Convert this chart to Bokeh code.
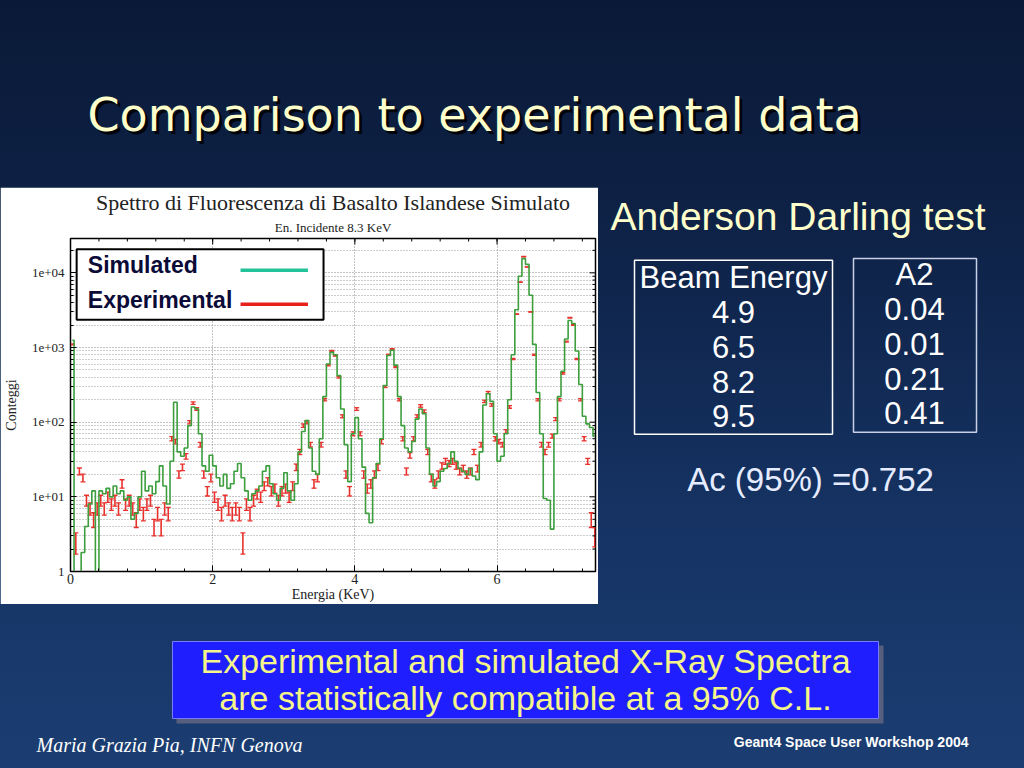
import numpy as np
from bokeh.plotting import figure
from bokeh.models import (ColumnDataSource, FixedTicker, Label, Title, Whisker, TeeHead, Range1d)
from bokeh.layouts import column, row
from bokeh.embed import file_html
from bokeh.resources import INLINE

# ---------------- data ----------------
bin_width_kev = 0.05
simulated_counts = [
    1250, 0.5, 0.5, 1.8, 4, 8, 12, 0.5, 12, 11,
    13, 10, 14, 11, 12, 9, 10, 5, 6, 10,
    22, 12, 14, 11, 16, 26, 14, 8, 30, 185,
    40, 35, 45, 90, 160, 150, 70, 26, 22, 36,
    26, 18, 14, 20, 13, 15, 22, 28, 18, 12,
    9, 11, 12, 14, 22, 26, 15, 11, 9, 13,
    21, 12, 9, 15, 40, 75, 105, 45, 22, 20,
    60, 220, 600, 860, 800, 420, 150, 50, 16, 70,
    115, 60, 25, 6, 4.5, 18, 28, 60, 310, 780,
    920, 580, 220, 90, 45, 40, 55, 110, 150, 130,
    45, 20, 14, 16, 22, 24, 28, 40, 30, 24,
    22, 20, 24, 19, 17, 40, 170, 240, 190, 70,
    30, 35, 70, 200, 800, 3200, 9000, 15500, 13000, 5000,
    1100, 250, 70, 9.5, 9, 3.7, 70, 220, 480, 1300,
    2300, 2100, 900, 320, 120, 95, 85, 65]
experimental_counts = [
    1100, 2.5, 22, 18, 9, 7, 5, 7, 9, 7,
    10, 8, 9, 7, 15, 8, 9, 7, 5, 8,
    6, 8, 9, 4, 6, 4, 7, 6, 60, 55,
    20, 25, 35, 100, 180, 150, 50, 20, 12, 18,
    10, 8, 6, 9, 7, 6, 7, 6, 2.5, 8,
    6, 9, 11, 10, 14, 16, 12, 13, 9, 12,
    13, 10, 14, 25, 40, 90, 100, 50, 15, 18,
    50, 200, 580, 900, 780, 400, 120, 20, 12, 70,
    150, 70, 20, 13, 15, 20, 25, 55, 300, 800,
    950, 550, 200, 60, 22, 36, 60, 120, 165, 140,
    40, 18, 15, 20, 26, 30, 28, 30, 26, 22,
    24, 20, 22, 40, 24, 50, 190, 250, 170, 60,
    55, 50, 75, 160, 700, 2800, 7500, 16500, 12000, 3000,
    800, 200, 50, 40, 50, 65, 110, 200, 450, 1200,
    2500, 2000, 700, 200, 60, 30, 5, 3]
x_ticks = [0, 2, 4, 6]
y_ticks = [1, 10, 100, 1000, 10000]
y_tick_labels = ["1", "1e+01", "1e+02", "1e+03", "1e+04"]
table_header = ["Beam Energy", "A2"]
beam_energy = ["4.9", "6.5", "8.2", "9.5"]
a2_values = ["0.04", "0.01", "0.21", "0.41"]
ac_95 = "0.752"

# ---------------- derived ----------------
n = len(simulated_counts)
energy = np.round((np.arange(n) + 0.5) * bin_width_kev, 4)
exp_arr = np.array(experimental_counts, dtype=float)
exp_err = 0.5 * np.sqrt(exp_arr)
src = ColumnDataSource(dict(e=energy, sim=simulated_counts, exp=exp_arr,
                            lo=exp_arr - exp_err, hi=exp_arr + exp_err))

W = 1024
TOP_H, MID_H, BOT_H = 187, 417, 164
SP_W = 598
RT_W = W - SP_W
FRAME_TOP, FRAME_BOTTOM = 49, 33   # borders of the spectrum frame (row aligns frames)

SERIF = "Liberation Serif"
SANS = "Liberation Sans"


def deco_fig(w, h, y_top=0, y_bottom=None, **kw):
    if y_bottom is None:
        y_bottom = h
    f = figure(width=w, height=h, x_range=Range1d(0, w), y_range=Range1d(y_bottom, y_top),
               output_backend="svg", toolbar_location=None,
               x_axis_location=None, y_axis_location=None, **kw)
    f.grid.visible = False
    f.outline_line_color = None
    f.background_fill_alpha = 0
    f.border_fill_alpha = 0
    return f


# ---------------- title block ----------------
top = deco_fig(W, TOP_H, min_border=0)
title_txt = "Comparison to experimental data"
top.add_layout(Label(x=90, y=117, text=title_txt, text_font="DejaVu Sans",
                     text_font_size="46px", text_color="#000000", text_alpha=0.85,
                     text_baseline="middle"))
top.add_layout(Label(x=87, y=114, text=title_txt, text_font="DejaVu Sans",
                     text_font_size="46px", text_color="#ffffcc",
                     text_baseline="middle"))

# ---------------- spectrum ----------------
X_END = 7.385
Y_END = 10 ** 4.46
PX_PER_KEV = 71.7
PX_PER_DECADE = 75.0
sp = figure(width=SP_W, height=MID_H, x_range=Range1d(0, X_END),
            y_range=Range1d(1, Y_END), y_axis_type="log", title=None,
            output_backend="svg", toolbar_location=None,
            min_border_left=65, min_border_right=3, min_border_top=FRAME_TOP,
            min_border_bottom=FRAME_BOTTOM)
sp.background_fill_color = "white"
sp.border_fill_color = "white"
sp.outline_line_color = "black"
sp.outline_line_width = 1.5

x_minor = list(np.round(np.arange(0, 7.4, 0.4), 2))
y_minor = [m * 10 ** d for d in range(0, 5) for m in range(2, 10)]
xt = FixedTicker(ticks=x_ticks, minor_ticks=x_minor)
yt = FixedTicker(ticks=y_ticks, minor_ticks=y_minor)

xa = sp.xaxis[0]
xa.ticker = xt
xa.axis_label = "Energia (KeV)"
ya = sp.yaxis[0]
ya.ticker = yt
ya.major_label_overrides = dict(zip(y_ticks, y_tick_labels))
ya.axis_label = "Conteggi"
for ax in (xa, ya):
    ax.major_tick_in = 6
    ax.major_tick_out = 0
    ax.minor_tick_in = 3
    ax.minor_tick_out = 0
    ax.axis_line_color = "black"
    ax.major_tick_line_color = "black"
    ax.minor_tick_line_color = "black"
    ax.major_label_text_font = SERIF
    ax.major_label_text_color = "#222222"
    ax.axis_label_text_font = SERIF
    ax.axis_label_text_font_style = "normal"
    ax.axis_label_text_color = "#222222"
    ax.axis_label_text_font_size = "14px"
xa.major_label_text_font_size = "14px"
xa.major_label_standoff = 2
xa.axis_label_standoff = 0
ya.major_label_text_font_size = "13px"
ya.major_label_standoff = 6
ya.axis_label_standoff = 10

sp.add_layout(Title(text="En. Incidente 8.3 KeV", align="center", text_font=SERIF,
                    text_font_size="13px", text_font_style="normal",
                    text_color="#222222", standoff=7), "above")
sp.add_layout(Title(text="Spettro di Fluorescenza di Basalto Islandese Simulato",
                    align="center", text_font=SERIF, text_font_size="22px",
                    text_font_style="normal", text_color="#222222", standoff=0), "above")

sp.xgrid.ticker = FixedTicker(ticks=[2, 4, 6])
sp.xgrid.grid_line_color = "#888888"
sp.xgrid.grid_line_dash = "1 2"
sp.ygrid.ticker = yt
sp.ygrid.grid_line_color = "#888888"
sp.ygrid.grid_line_dash = "1 2"
sp.ygrid.minor_grid_line_color = "#9a9a9a"
sp.ygrid.minor_grid_line_dash = "1 2"

# mirrored inward ticks on the top and right frame edges
top_major = 10 ** (-6 / PX_PER_DECADE)
top_minor = 10 ** (-3 / PX_PER_DECADE)
sp.segment(x0=x_ticks, x1=x_ticks, y0=[Y_END] * len(x_ticks),
           y1=[Y_END * top_major] * len(x_ticks), line_color="black", line_width=1)
sp.segment(x0=x_minor, x1=x_minor, y0=[Y_END] * len(x_minor),
           y1=[Y_END * top_minor] * len(x_minor), line_color="black", line_width=1)
sp.segment(x0=[X_END] * len(y_ticks), x1=[X_END - 6 / PX_PER_KEV] * len(y_ticks),
           y0=y_ticks, y1=y_ticks, line_color="black", line_width=1)
sp.segment(x0=[X_END] * len(y_minor), x1=[X_END - 3 / PX_PER_KEV] * len(y_minor),
           y0=y_minor, y1=y_minor, line_color="black", line_width=1)

sp.step("e", "sim", source=src, mode="center", line_color="#3d9e3d", line_width=1.6)
sp.add_layout(Whisker(source=src, base="e", upper="hi", lower="lo",
                      line_color="#e8302c", line_width=1.6,
                      upper_head=TeeHead(size=5, line_color="#e8302c", line_width=1.3),
                      lower_head=TeeHead(size=5, line_color="#e8302c", line_width=1.3)))


# legend (drawn inside the frame, labels left of swatches as in the original)
def ex(px):
    return (px - 65.5) / PX_PER_KEV


def cy(py):
    return 10 ** ((570.5 - py) / PX_PER_DECADE)


sp.quad(left=[ex(71.7)], right=[ex(320.7)], top=[cy(246.7)], bottom=[cy(317.7)],
        fill_color="white", line_color="black", line_width=2)
sp.add_layout(Label(x=ex(83), y=cy(263), text="Simulated", text_font=SANS,
                    text_font_style="bold", text_font_size="23px",
                    text_color="#0b0b38", text_baseline="middle"))
sp.add_layout(Label(x=ex(83), y=cy(298), text="Experimental", text_font=SANS,
                    text_font_style="bold", text_font_size="23px",
                    text_color="#0b0b38", text_baseline="middle"))
sp.segment(x0=[ex(237)], x1=[ex(305)], y0=[cy(268)], y1=[cy(268)],
           line_color="#22c29a", line_width=3.5)
sp.segment(x0=[ex(237)], x1=[ex(305)], y0=[cy(302)], y1=[cy(302)],
           line_color="#e8201c", line_width=3.5)

# ---------------- Anderson Darling panel ----------------
# the row aligns this frame with the spectrum frame: data y == pixel y in this panel
rt = deco_fig(RT_W, MID_H, y_top=FRAME_TOP, y_bottom=MID_H - FRAME_BOTTOM,
              min_border_left=0, min_border_right=0,
              min_border_top=FRAME_TOP, min_border_bottom=FRAME_BOTTOM)
rt.add_layout(Title(text="Anderson Darling test", align="left", offset=12,
                    text_font=SANS, text_font_size="39px", text_font_style="normal",
                    text_color="#ffffcc", standoff=2), "above")
rt.quad(left=[36], right=[234], top=[71], bottom=[246], fill_alpha=0,
        line_color="#ffffff", line_width=1.5)
rt.quad(left=[255], right=[378], top=[69], bottom=[244], fill_alpha=0,
        line_color="#c8d0e8", line_width=1.5)
col1 = [table_header[0]] + beam_energy
col2 = [table_header[1]] + a2_values
for k, t in enumerate(col1):
    rt.add_layout(Label(x=135, y=88 + 35 * k, text=t, text_font=SANS,
                        text_font_size="31px", text_color="#ffffff",
                        text_align="center", text_baseline="middle"))
for k, t in enumerate(col2):
    rt.add_layout(Label(x=316, y=85 + 35 * k, text=t, text_font=SANS,
                        text_font_size="31px", text_color="#ffffff",
                        text_align="center", text_baseline="middle"))
rt.add_layout(Label(x=212, y=291, text="Ac (95%) =" + ac_95, text_font=SANS,
                    text_font_size="33px", text_color="#e6ecff",
                    text_align="center", text_baseline="middle"))

# ---------------- conclusion + footer ----------------
bt = deco_fig(W, BOT_H, min_border=0)
bt.quad(left=[176], right=[883], top=[41], bottom=[119], fill_color="#56607e",
        line_color=None)
bt.quad(left=[172], right=[878], top=[37], bottom=[114], fill_color="#1e1eff",
        line_color="#7a7aff", line_width=1)
bt.add_layout(Label(x=525, y=56, text="Experimental and simulated X-Ray Spectra",
                    text_font=SANS, text_font_size="34px", text_color="#f5f58a",
                    text_align="center", text_baseline="middle"))
bt.add_layout(Label(x=525, y=93, text="are statistically compatible at a 95% C.L.",
                    text_font=SANS, text_font_size="34px", text_color="#f5f58a",
                    text_align="center", text_baseline="middle"))
bt.add_layout(Label(x=36, y=140, text="Maria Grazia Pia, INFN Genova", text_font=SERIF,
                    text_font_style="italic", text_font_size="20px",
                    text_color="#ffffff", text_baseline="middle"))
bt.add_layout(Label(x=968, y=137, text="Geant4 Space User Workshop 2004", text_font=SANS,
                    text_font_style="bold", text_font_size="14px",
                    text_color="#ffffff", text_align="right", text_baseline="middle"))

layout = column(top, row(sp, rt), bt,
                styles={"background": "linear-gradient(to bottom, #0a1937 0%, #0f244a 35%, #163465 70%, #1b3d71 100%)"})

open("out.html", "w").write(file_html(layout, INLINE))
